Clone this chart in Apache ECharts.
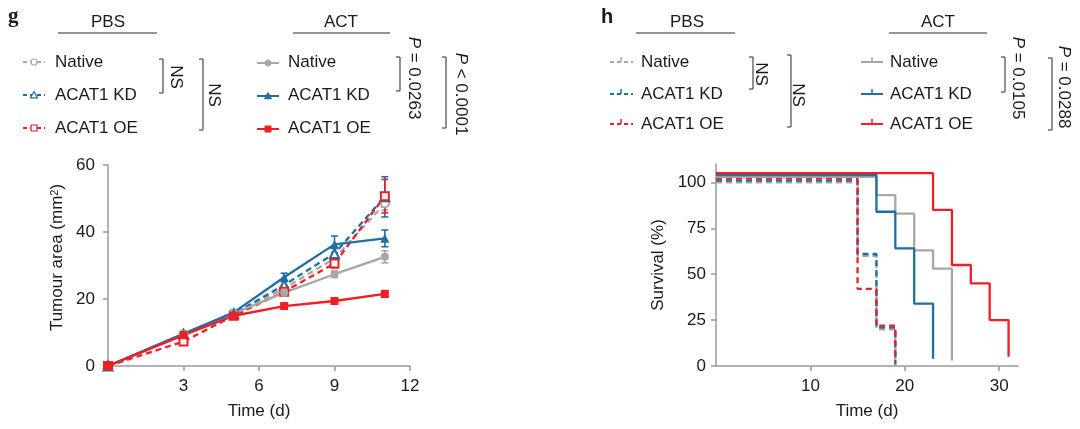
<!DOCTYPE html>
<html><head><meta charset="utf-8">
<script src="https://cdn.jsdelivr.net/npm/echarts@6/dist/echarts.min.js"></script>
<style>html,body{margin:0;padding:0;background:#fff}#c{width:1080px;height:429px}</style>
</head><body><div id="c"></div>
<script>
// ---------- data ----------
const groupNames = ['PBS', 'ACT'];
const legendLabels = ['Native', 'ACAT1 KD', 'ACAT1 OE'];

// panel g: tumour area (mm2) vs time (d)
const tumourDays = [0, 3, 5, 7, 9, 11];
const pbsNative    = [0, 9.5, 15.6, 23.2, 32.1, 48.5];
const pbsNativeErr = [0, 0.5, 0.6, 0.8, 1.2, 2.0];
const pbsKD        = [0, 9.5, 15.6, 24.2, 33.6, 50.5];
const pbsKDErr     = [0, 0.5, 0.6, 1.0, 1.5, 6.0];
const pbsOE        = [0, 7.3, 15.0, 22.2, 30.6, 50.7];
const pbsOEErr     = [0, 0.6, 0.6, 0.8, 1.3, 5.0];
const actNative    = [0, 9.7, 15.7, 21.9, 27.4, 32.6];
const actNativeErr = [0, 0.5, 0.7, 0.8, 1.0, 1.8];
const actKD        = [0, 9.6, 16.0, 26.5, 36.3, 38.1];
const actKDErr     = [0, 0.5, 0.7, 1.2, 2.5, 2.5];
const actOE        = [0, 9.2, 15.0, 17.9, 19.4, 21.5];
const actOEErr     = [0, 0.4, 0.5, 0.6, 0.6, 1.0];
const gXTicks = [3, 6, 9, 12];
const gYTicks = [0, 20, 40, 60];

// panel h: survival (%) vs time (d), as drawn (curves slightly offset)
const survPbsNative = [[0, 100], [15, 60], [17, 20], [19, 0]];
const survPbsKD     = [[0, 101], [15, 61], [17, 21], [19, 1]];
const survPbsOE     = [[0, 102], [15, 42], [17, 22], [19, 2]];
const survActNative = [[0, 103], [17, 93], [19, 83], [21, 63], [23, 53], [25, 3]];
const survActKD     = [[0, 104], [17, 84], [19, 64], [21, 34], [23, 4]];
const survActOE     = [[0, 105], [23, 85], [25, 55], [27, 45], [29, 25], [31, 5]];
const hXTicks = [10, 20, 30];
const hYTicks = [0, 25, 50, 75, 100];

const statsG = ['NS', 'NS', '{i|P} = 0.0263', '{i|P} < 0.0001'];
const statsH = ['NS', 'NS', '{i|P} = 0.0105', '{i|P} = 0.0288'];

// ---------- style ----------
const GRAY = '#a7a7a7', BLUE = '#1f6fa2', RED = '#ee1f25';
const FONT = "'Liberation Sans', Arial, Helvetica, sans-serif";
const TXT = '#1a1a1a', AXC = '#9a9a9a';
const colors = [GRAY, BLUE, RED];
const DASH = [6, 4];

function mkErr(vals, errs) {
  return tumourDays.map((d, i) => [d, vals[i] - errs[i], vals[i] + errs[i]]).filter((r, i) => errs[i] > 0);
}
function errRender(color) {
  return function (params, api) {
    const x = api.value(0), lo = api.value(1), hi = api.value(2);
    const p1 = api.coord([x, hi]), p2 = api.coord([x, lo]);
    const w = 3.5, st = { stroke: color, lineWidth: 1.6 };
    return { type: 'group', children: [
      { type: 'line', shape: { x1: p1[0], y1: p1[1], x2: p2[0], y2: p2[1] }, style: st },
      { type: 'line', shape: { x1: p1[0] - w, y1: p1[1], x2: p1[0] + w, y2: p1[1] }, style: st },
      { type: 'line', shape: { x1: p2[0] - w, y1: p2[1], x2: p2[0] + w, y2: p2[1] }, style: st }
    ]};
  };
}
function pairs(vals) { return tumourDays.map((d, i) => [d, vals[i]]); }

const series = [];
function addG(name, vals, errs, color, dashed, symbol, size) {
  series.push({ type: 'custom', name: name + ' err', xAxisIndex: 0, yAxisIndex: 0, renderItem: errRender(color),
    encode: { x: 0, y: [1, 2] }, data: mkErr(vals, errs), z: 3, silent: true });
  series.push({ type: 'line', name: name, xAxisIndex: 0, yAxisIndex: 0, data: pairs(vals),
    symbol: symbol, symbolSize: size, showAllSymbol: true,
    lineStyle: { color: color, width: 2.3, type: dashed ? DASH : 'solid' },
    itemStyle: { color: color, borderColor: color, borderWidth: dashed ? 1.4 : 0 },
    z: 4, animation: false, silent: true });
}
addG('PBS Native', pbsNative, pbsNativeErr, GRAY, true, 'emptyCircle', 8);
addG('PBS ACAT1 KD', pbsKD, pbsKDErr, BLUE, true, 'emptyTriangle', 9);
addG('PBS ACAT1 OE', pbsOE, pbsOEErr, RED, true, 'emptyRect', 8);
addG('ACT Native', actNative, actNativeErr, GRAY, false, 'circle', 8);
addG('ACT ACAT1 KD', actKD, actKDErr, BLUE, false, 'triangle', 9);
addG('ACT ACAT1 OE', actOE, actOEErr, RED, false, 'rect', 8);

function addH(name, data, color, dashed) {
  series.push({ type: 'line', name: name, xAxisIndex: 1, yAxisIndex: 1, data: data, step: 'end',
    symbol: 'none', lineStyle: { color: color, width: 2.3, type: dashed ? DASH : 'solid' },
    z: dashed ? 3 : 4, animation: false, silent: true });
}
addH('PBS Native', survPbsNative, GRAY, true);
addH('PBS ACAT1 KD', survPbsKD, BLUE, true);
addH('PBS ACAT1 OE', survPbsOE, RED, true);
addH('ACT Native', survActNative, GRAY, false);
addH('ACT ACAT1 KD', survActKD, BLUE, false);
addH('ACT ACAT1 OE', survActOE, RED, false);

// ---------- graphic: headers, legends, brackets ----------
const g = [];
function text(x, y, t, opt) {
  opt = opt || {};
  g.push({ type: 'text', x: x, y: y, rotation: opt.rot || 0, silent: true,
    style: { text: t, x: 0, y: 0, fill: TXT, font: (opt.weight || 'normal') + ' ' + (opt.size || 17) + 'px ' + (opt.family || FONT),
      align: opt.align || 'left', verticalAlign: 'middle', textAlign: opt.align || 'left', textVerticalAlign: 'middle',
      rich: { i: { fontStyle: 'italic', fontSize: 17, fontFamily: FONT, fill: TXT } } } });
}
function line(x1, y1, x2, y2, color, w, dash) {
  g.push({ type: 'line', silent: true, shape: { x1: x1, y1: y1, x2: x2, y2: y2 },
    style: { stroke: color, lineWidth: w, lineDash: dash || null } });
}
function header(cx, x1, x2, label) {
  text(cx, 22, label, { align: 'center' });
  line(x1, 33, x2, 33, '#2a2a2a', 1.1);
}
function bracket(xv, y1, y2, label, tx, ty) {
  const c = '#555';
  line(xv, y1, xv, y2, c, 1.3);
  line(xv - 4, y1, xv, y1, c, 1.3);
  line(xv - 4, y2, xv, y2, c, 1.3);
  text(tx, ty, label, { align: 'center', rot: -Math.PI / 2 });
}
function symbolGlyph(kind, cx, cy, color, filled) {
  const st = filled ? { fill: color, stroke: color, lineWidth: 1 } : { fill: '#fff', stroke: color, lineWidth: 1.2 };
  if (kind === 0) g.push({ type: 'circle', silent: true, shape: { cx: cx, cy: cy, r: 3 }, style: st });
  else if (kind === 1) g.push({ type: 'polygon', silent: true, shape: { points: [[cx, cy - 3.5], [cx + 3.5, cy + 2.8], [cx - 3.5, cy + 2.8]] }, style: st });
  else g.push({ type: 'rect', silent: true, shape: { x: cx - 3, y: cy - 3, width: 6, height: 6 }, style: st });
}

// panel g
text(8, 17, 'g', { weight: 'bold', size: 21, family: "'Liberation Serif', 'DejaVu Serif', serif" });
header(108, 58, 157, groupNames[0]);
header(341, 293, 390, groupNames[1]);
const gRows = [62, 95, 128];
legendLabels.forEach((lab, i) => {
  const y = gRows[i];
  line(23, y, 45, y, colors[i], 1.8, [4, 3]);
  symbolGlyph(i, 34, y, colors[i], false);
  text(55, y, lab);
  line(257, y + 1, 279, y + 1, colors[i], 2);
  symbolGlyph(i, 268, y + 1, colors[i], true);
  text(288, y, lab);
});
bracket(163, 59, 93, statsG[0], 176, 77);
bracket(203, 59, 130, statsG[1], 214, 95);
bracket(400, 57, 91, statsG[2], 414, 78);
bracket(446, 57, 128, statsG[3], 461, 94);

// panel h
text(601, 17, 'h', { weight: 'bold', size: 20 });
header(687, 636, 735, groupNames[0]);
header(938, 889, 987, groupNames[1]);
const hRows = [62, 94, 124];
legendLabels.forEach((lab, i) => {
  const y = hRows[i];
  line(610, y, 633, y, colors[i], 1.8, [4, 3]);
  line(621, y, 621, y - 5, colors[i], 1.5);
  text(641, y, lab);
  line(861, y, 883, y, colors[i], 2);
  line(872, y, 872, y - 5, colors[i], 1.5);
  text(890, y, lab);
});
bracket(753, 57, 89, statsH[0], 761, 74);
bracket(791, 55, 127, statsH[1], 798, 95);
bracket(1005, 57, 92, statsH[2], 1018, 78);
bracket(1052, 58, 130, statsH[3], 1064, 87);

// ---------- axes ----------
function axisCommon() {
  return {
    axisLine: { show: true, onZero: false, lineStyle: { color: AXC, width: 1.5 } },
    axisTick: { show: true, length: 5, lineStyle: { color: AXC, width: 1.5 } },
    splitLine: { show: false },
    axisLabel: { color: TXT, fontSize: 17, fontFamily: FONT },
    nameTextStyle: { color: TXT, fontSize: 17, fontFamily: FONT }
  };
}
function xAx(gridIndex, max, ticks, name) {
  const a = axisCommon();
  return Object.assign(a, { type: 'value', gridIndex: gridIndex, min: 0, max: max,
    name: name, nameLocation: 'middle', nameGap: 37,
    axisTick: Object.assign(a.axisTick, { customValues: ticks }),
    axisLabel: Object.assign(a.axisLabel, { customValues: ticks, margin: 12 }) });
}
function yAx(gridIndex, max, ticks, name, gap, margin, pad) {
  const a = axisCommon();
  return Object.assign(a, { type: 'value', gridIndex: gridIndex, min: 0, max: max,
    name: name, nameLocation: 'middle', nameGap: gap,
    nameTextStyle: Object.assign(a.nameTextStyle, { padding: pad,
      rich: { a: { fontSize: 17, fontFamily: FONT, color: TXT }, sup: { fontSize: 11, fontFamily: FONT, color: TXT, verticalAlign: 'top' } } }),
    axisTick: Object.assign(a.axisTick, { customValues: ticks }),
    axisLabel: Object.assign(a.axisLabel, { customValues: ticks, margin: margin }) });
}

const option = {
  animation: false,
  backgroundColor: '#fff',
  grid: [
    { left: 108, top: 165, width: 302, height: 201, containLabel: false },
    { left: 716, top: 164, width: 302, height: 202, containLabel: false }
  ],
  xAxis: [ xAx(0, 12, gXTicks, 'Time (d)'), xAx(1, 32, hXTicks, 'Time (d)') ],
  yAxis: [
    yAx(0, 60, gYTicks, '{a|Tumour area (mm}{sup|2}{a|)}', 42, 13, [0, 0, 0, 16]),
    yAx(1, 110, hYTicks, 'Survival (%)', 49, 10, [0, 0, 0, 0])
  ],
  series: series,
  graphic: { elements: g }
};
const chart = echarts.init(document.getElementById('c'), null, { renderer: 'canvas' });
chart.setOption(option);
</script></body></html>
